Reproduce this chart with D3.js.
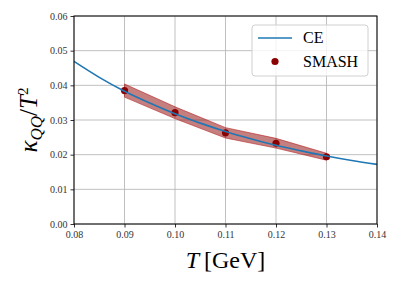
<!DOCTYPE html>
<html>
<head>
<meta charset="utf-8">
<script src="https://cdn.jsdelivr.net/npm/d3@7"></script>
<style>
  body { margin: 0; background: #fff; }
  svg text { font-family: 'Liberation Serif', 'DejaVu Serif', serif !important; }
</style>
</head>
<body>
<div id="chart"></div>
<script>
// CE curve
const ceT = [0.080, 0.085, 0.090, 0.095, 0.100, 0.105, 0.110, 0.115, 0.120, 0.125, 0.130, 0.135, 0.140];
const ceK = [0.0469, 0.0423, 0.0383, 0.0349, 0.0318, 0.0291, 0.0267, 0.0246, 0.0227, 0.0211, 0.0196, 0.0183, 0.0172];

// SMASH points with error band
const smashT = [0.09, 0.10, 0.11, 0.12, 0.13];
const smashK = [0.0385, 0.0321, 0.0263, 0.0233, 0.0194];
const smashErr = [0.0019, 0.0017, 0.0015, 0.0014, 0.0010];

const xTicks = [0.08, 0.09, 0.10, 0.11, 0.12, 0.13, 0.14];
const yTicks = [0.00, 0.01, 0.02, 0.03, 0.04, 0.05, 0.06];

const width = 399, height = 287;
const margin = { left: 74, right: 22, top: 16, bottom: 63 };

const svg = d3.select("#chart").append("svg").attr("width", width).attr("height", height);

const x = d3.scaleLinear().domain([0.08, 0.14]).range([margin.left, width - margin.right]);
const y = d3.scaleLinear().domain([0, 0.06]).range([height - margin.bottom, margin.top]);

// grid
const grid = svg.append("g");
grid.selectAll(".gx").data(xTicks).enter().append("line")
  .attr("x1", d => x(d)).attr("x2", d => x(d))
  .attr("y1", y(0)).attr("y2", y(0.06))
  .attr("stroke", "#b0b0b0").attr("stroke-width", 0.8);
grid.selectAll(".gy").data(yTicks).enter().append("line")
  .attr("x1", x(0.08)).attr("x2", x(0.14))
  .attr("y1", d => y(d)).attr("y2", d => y(d))
  .attr("stroke", "#b0b0b0").attr("stroke-width", 0.8);

// SMASH band
const band = smashT.map((t, i) => ({ t, lo: smashK[i] - smashErr[i], hi: smashK[i] + smashErr[i] }));
svg.append("path")
  .datum(band)
  .attr("d", d3.area().x(d => x(d.t)).y0(d => y(d.lo)).y1(d => y(d.hi)))
  .attr("fill", "#8b0000").attr("fill-opacity", 0.5)
  .attr("stroke", "#b22222").attr("stroke-opacity", 0.6).attr("stroke-width", 1);

// SMASH points
svg.append("g").selectAll("circle")
  .data(smashT.map((t, i) => ({ t, k: smashK[i] })))
  .enter().append("circle")
  .attr("cx", d => x(d.t)).attr("cy", d => y(d.k))
  .attr("r", 3.6).attr("fill", "#8b0000");

// CE line
svg.append("path")
  .datum(ceT.map((t, i) => ({ t, k: ceK[i] })))
  .attr("d", d3.line().x(d => x(d.t)).y(d => y(d.k)).curve(d3.curveMonotoneX))
  .attr("fill", "none").attr("stroke", "#1f77b4").attr("stroke-width", 1.6);

// axes
const xAxis = svg.append("g").attr("transform", `translate(0,${y(0)})`)
  .call(d3.axisBottom(x).tickValues(xTicks).tickFormat(d3.format(".2f")).tickSizeInner(3.5).tickSizeOuter(0).tickPadding(3));
const yAxis = svg.append("g").attr("transform", `translate(${x(0.08)},0)`)
  .call(d3.axisLeft(y).tickValues(yTicks).tickFormat(d3.format(".2f")).tickSizeInner(3.5).tickSizeOuter(0).tickPadding(3));
[xAxis, yAxis].forEach(a => {
  a.attr("font-family", null);
  a.selectAll("text").attr("font-size", 10).attr("fill", "#333");
  a.selectAll("line").attr("stroke", "#000").attr("stroke-width", 0.8);
  a.select(".domain").remove();
});

// frame
svg.append("rect")
  .attr("x", x(0.08)).attr("y", y(0.06))
  .attr("width", x(0.14) - x(0.08)).attr("height", y(0) - y(0.06))
  .attr("fill", "none").attr("stroke", "#000").attr("stroke-width", 1);

// axis labels
const xl = svg.append("text")
  .attr("x", x(0.11)).attr("y", 268)
  .attr("text-anchor", "middle").attr("font-size", 24);
xl.append("tspan").attr("font-style", "italic").text("T");
xl.append("tspan").attr("dx", 5).text("[GeV]");

const yl = svg.append("text")
  .attr("transform", `translate(37,${y(0.03)}) rotate(-90)`)
  .attr("text-anchor", "middle").attr("font-size", 25);
yl.append("tspan").attr("font-style", "italic").text("κ");
yl.append("tspan").attr("font-style", "italic").attr("font-size", 17).attr("dy", 5).text("QQ");
yl.append("tspan").attr("dy", -5).text("/");
yl.append("tspan").attr("font-style", "italic").text("T");
yl.append("tspan").attr("font-size", 15).attr("dy", -9).text("2");

// legend
const lg = svg.append("g");
lg.append("rect")
  .attr("x", 252).attr("y", 25).attr("width", 116).attr("height", 51).attr("rx", 3)
  .attr("fill", "#fff").attr("fill-opacity", 0.8).attr("stroke", "#d0d0d0").attr("stroke-width", 1);
lg.append("line").attr("x1", 258).attr("x2", 292).attr("y1", 38).attr("y2", 38)
  .attr("stroke", "#1f77b4").attr("stroke-width", 1.6);
lg.append("text").attr("x", 303).attr("y", 43).attr("font-size", 16).text("CE");
lg.append("circle").attr("cx", 275).attr("cy", 61.5).attr("r", 3.6).attr("fill", "#8b0000");
lg.append("text").attr("x", 303).attr("y", 66.5).attr("font-size", 16).text("SMASH");
</script>
</body>
</html>
